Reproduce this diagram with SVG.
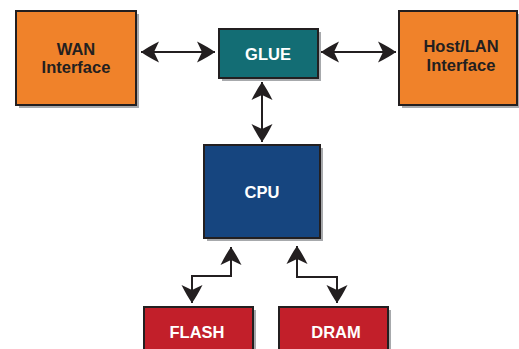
<svg xmlns="http://www.w3.org/2000/svg" width="519" height="349" viewBox="0 0 519 349">
<style>
.box{stroke:#231f20;stroke-width:2}
.sh{fill:#a7a9ac}
.orange{fill:#f0822a}
.teal{fill:#136d74}
.blue{fill:#16457f}
.red{fill:#c21f2a}
.t{font-family:"Liberation Sans",Arial,sans-serif;font-weight:bold;font-size:16.5px;text-anchor:middle}
.dk{fill:#231f20}
.wh{fill:#ffffff}
.c{fill:none;stroke:#231f20;stroke-width:2}
</style>
<defs>
<marker id="ah" markerUnits="userSpaceOnUse" markerWidth="24" markerHeight="24" viewBox="-20 -12 22 24" refX="0" refY="0" orient="auto-start-reverse">
<path d="M0,0 Q-7,5 -18,10.5 L-13,0 L-18,-10.5 Q-7,-5 0,0 Z" fill="#231f20"/>
</marker>
</defs>
<rect x="0" y="0" width="519" height="349" fill="#ffffff"/>
<g id="wan">
<rect class="sh" x="19" y="14" width="120" height="94"/>
<rect class="box orange" x="16" y="11" width="120" height="94"/>
<text class="t dk" x="76" y="55">WAN</text>
<text class="t dk" x="76" y="73">Interface</text>
</g>
<g id="glue">
<rect class="sh" x="222" y="32" width="99" height="49"/>
<rect class="box teal" x="219" y="29" width="99" height="49"/>
<text class="t wh" x="268" y="60">GLUE</text>
</g>
<g id="host">
<rect class="sh" x="402" y="14" width="118" height="94"/>
<rect class="box orange" x="399" y="11" width="118" height="94"/>
<text class="t dk" x="461" y="52">Host/LAN</text>
<text class="t dk" x="461" y="71">Interface</text>
</g>
<g id="cpu">
<rect class="sh" x="207" y="148" width="116" height="93"/>
<rect class="box blue" x="204" y="145" width="116" height="93"/>
<text class="t wh" x="262" y="198">CPU</text>
</g>
<g id="flash">
<rect class="sh" x="147" y="310" width="109" height="60"/>
<rect class="box red" x="144" y="307" width="109" height="60"/>
<text class="t wh" x="197" y="338">FLASH</text>
</g>
<g id="dram">
<rect class="sh" x="282" y="310" width="109" height="60"/>
<rect class="box red" x="279" y="307" width="109" height="60"/>
<text class="t wh" x="336" y="338">DRAM</text>
</g>
<g id="connectors">
<path class="c" d="M141,52 H215" marker-start="url(#ah)" marker-end="url(#ah)"/>
<path class="c" d="M321,52 H396" marker-start="url(#ah)" marker-end="url(#ah)"/>
<path class="c" d="M262,82 V142" marker-start="url(#ah)" marker-end="url(#ah)"/>
<path class="c" d="M231,247 V276 H192 V303" marker-start="url(#ah)" marker-end="url(#ah)"/>
<path class="c" d="M297,246 V277 H337 V303" marker-start="url(#ah)" marker-end="url(#ah)"/>
</g>
</svg>
